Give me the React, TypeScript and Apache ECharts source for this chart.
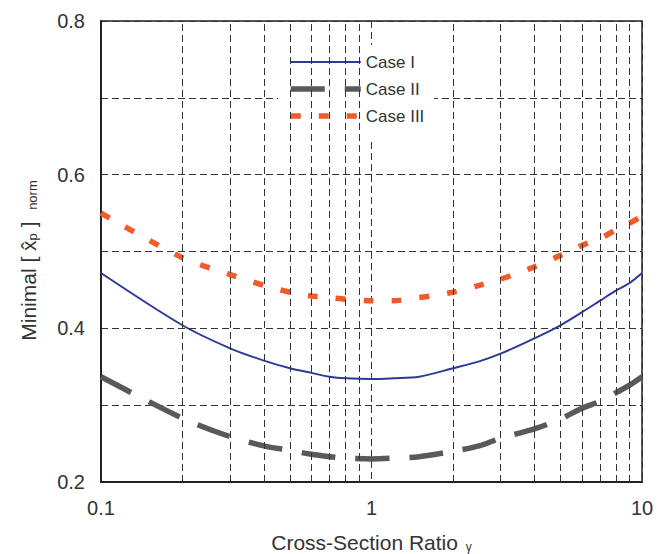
import React, { useEffect, useRef } from "react";
import * as echarts from "echarts";

const xValues = [0.1, 0.2, 0.3, 0.4, 0.5, 0.6, 0.7, 0.8, 1, 1.2, 1.5, 2, 2.5, 3, 4, 5, 6, 7, 8, 9, 10];
const caseI = [0.472, 0.404, 0.374, 0.358, 0.348, 0.342, 0.337, 0.335, 0.334, 0.335, 0.337, 0.348, 0.357, 0.367, 0.387, 0.404, 0.421, 0.436, 0.449, 0.459, 0.472];
const caseII = [0.337, 0.283, 0.259, 0.247, 0.241, 0.236, 0.233, 0.231, 0.230, 0.231, 0.233, 0.240, 0.247, 0.257, 0.269, 0.282, 0.296, 0.305, 0.316, 0.326, 0.337];
const caseIII = [0.550, 0.492, 0.470, 0.456, 0.447, 0.442, 0.440, 0.438, 0.436, 0.436, 0.440, 0.447, 0.456, 0.464, 0.480, 0.495, 0.508, 0.517, 0.528, 0.537, 0.546];
const seriesNames = ["Case I", "Case II", "Case III"];
const seriesColors = ["#2e3a97", "#58595b", "#f15a29"];
const minorGridX = [0.2, 0.3, 0.4, 0.5, 0.6, 0.7, 0.8, 0.9, 2, 3, 4, 5, 6, 7, 8, 9];
const yLabels = [0.2, 0.4, 0.6, 0.8];

const FONT = "'Liberation Sans', Arial, Helvetica, sans-serif";

export default function App() {
  const ref = useRef<HTMLDivElement>(null);
  useEffect(() => {
    if (!ref.current) return;
    const chart = echarts.init(ref.current, undefined, { renderer: "svg" });
    const pair = (ys: number[]) => xValues.map((x, i) => [x, ys[i]]);
    const gridStyle = { color: "#333", width: 1, type: [7, 4] as any };
    const lineStyles: any[] = [
      { color: seriesColors[0], width: 2 },
      { color: seriesColors[1], width: 5.5, type: [34, 20], cap: "butt" },
      { color: seriesColors[2], width: 5.5, type: [10, 18], cap: "butt" },
    ];
    chart.setOption({
      animation: false,
      textStyle: { fontFamily: FONT },
      grid: {
        left: 101, right: 15, top: 21, bottom: 72,
        outerBoundsMode: "none",
        containLabel: false,
        show: true, borderColor: "#222", borderWidth: 1.5, backgroundColor: "transparent",
      },
      legend: {
        data: seriesNames.map((n, i) => ({
          name: n,
          lineStyle: lineStyles[i],
          itemStyle: { opacity: 0 },
        })),
        orient: "vertical",
        left: 278,
        top: 45,
        padding: [8, 10, 14, 10],
        backgroundColor: "#fff",
        itemWidth: 70,
        itemHeight: 14,
        itemGap: 9,
        textStyle: { fontSize: 17, color: "#333", fontFamily: FONT, lineHeight: 18 },
      },
      xAxis: {
        type: "log",
        logBase: 10,
        min: 0.1,
        max: 10,
        name: "{t|Cross-Section Ratio }{s|γ}",
        nameLocation: "middle",
        nameGap: 45,
        nameTextStyle: {
          rich: {
            t: { fontSize: 21, color: "#333", fontFamily: FONT, lineHeight: 26, verticalAlign: "bottom" },
            s: { fontSize: 12, color: "#333", fontFamily: FONT, lineHeight: 20, verticalAlign: "bottom", padding: [0, 0, 0, 2] },
          },
        },
        axisLine: { show: true, lineStyle: { color: "#222", width: 2 } },
        axisTick: { show: false },
        axisLabel: {
          fontSize: 20, color: "#333", margin: 16, fontFamily: FONT,
          formatter: (v: number) => String(Math.round(v * 1000) / 1000),
        },
        splitLine: { show: true, lineStyle: gridStyle },
      },
      yAxis: {
        type: "value",
        min: 0.2,
        max: 0.8,
        interval: 0.1,
        name: "{t|Minimal [ x\u0302}{s|p}{t| ]  }{s|norm}",
        nameLocation: "middle",
        nameGap: 62,
        nameRotate: 90,
        nameTextStyle: {
          padding: [0, 18, 0, 0],
          rich: {
            t: { fontSize: 21, color: "#333", fontFamily: FONT, lineHeight: 26, verticalAlign: "bottom" },
            s: { fontSize: 13, color: "#333", fontFamily: FONT, lineHeight: 20, verticalAlign: "bottom" },
          },
        },
        axisLine: { show: true, lineStyle: { color: "#222", width: 2 } },
        axisTick: { show: false },
        axisLabel: {
          fontSize: 20, color: "#333", margin: 16, fontFamily: FONT,
          formatter: (v: number) => {
            const r = Math.round(v * 10) / 10;
            return yLabels.some((l) => Math.abs(l - r) < 1e-6) ? r.toFixed(1) : "";
          },
        },
        splitLine: { show: true, lineStyle: gridStyle },
      },
      series: [
        {
          name: "grid-minor",
          type: "line",
          data: [],
          z: 1,
          silent: true,
          markLine: {
            silent: true,
            symbol: ["none", "none"],
            label: { show: false },
            lineStyle: { color: "#333", width: 1, type: [7, 4] },
            emphasis: { disabled: true },
            data: minorGridX.map((x) => ({ xAxis: x })),
          },
        },
        ...[caseI, caseII, caseIII].map((ys, i) => ({
          name: seriesNames[i],
          type: "line",
          data: pair(ys),
          showSymbol: false,
          symbol: "none",
          smooth: 0.3,
          z: 3,
          lineStyle: lineStyles[i],
          itemStyle: { color: seriesColors[i] },
        })),
      ],
    });
    return () => chart.dispose();
  }, []);
  return <div ref={ref} style={{ width: 657, height: 554, position: "absolute", left: 0, top: 0 }} />;
}
